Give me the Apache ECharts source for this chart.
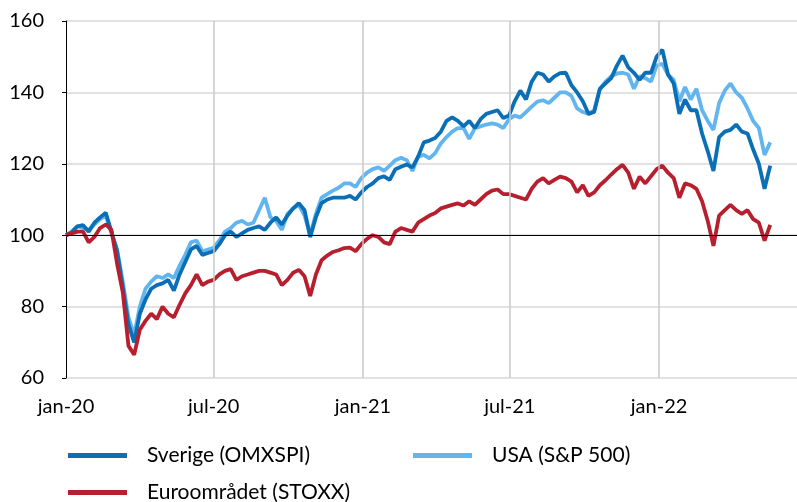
<!DOCTYPE html>
<html>
<head>
<meta charset="utf-8">
<script src="https://cdn.jsdelivr.net/npm/echarts@6/dist/echarts.min.js"></script>
<style>
  html, body { margin: 0; padding: 0; background: #fff; }
  #chart { width: 797px; height: 502px; }
</style>
</head>
<body>
<div id="chart"></div>
<script>
// weekly observations, first one on 2020-01-01
var startDate = '2020-01-01';
var stepDays = 7;

var sverige = [
    100, 100.8, 102.5, 102.8, 101, 103.5, 105, 106.3, 101, 95.5,
    85.5, 75, 70, 78, 82, 85, 86, 86.5, 87.5, 84.5,
    89, 92.5, 96, 97, 94.5, 95, 95.5, 97.5, 100, 101,
    99.5, 100.5, 101.5, 102, 102.5, 101.5, 103.5, 105, 103, 105.5,
    107.5, 109, 107, 99.5, 105, 109, 110, 110.5, 110.5, 110.5,
    111, 110, 112, 113.5, 114.5, 116, 116.5, 115.5, 118.5, 119.2,
    119.8, 119, 122, 126, 126.5, 127.2, 129, 132, 133, 132,
    130.5, 132, 130, 132.5, 134, 134.5, 135, 132.8, 133.5, 137.5,
    140.5, 138, 143, 145.5, 145, 143, 144.5, 145.4, 145.5, 142,
    140, 137.5, 134, 134.5, 141, 142.5, 144, 147.5, 150.3, 147,
    145.5, 143.5, 145.5, 145.5, 150, 152, 145, 142.5, 134, 138,
    135, 135, 128.5, 123.5, 118, 127.5, 129, 129.5, 131, 129,
    128.5, 124, 120, 113, 119.5
];

var usa = [
    100, 101, 102.5, 102, 101.5, 103, 104.5, 105.5, 100.5, 96,
    87, 77, 72, 80, 85, 87, 88.5, 88, 89, 88,
    91.5, 94.5, 98, 98.5, 95.5, 96, 96.5, 98.5, 101, 102,
    103.5, 104, 103, 103.5, 107, 110.5, 105, 104, 101.5, 106,
    107.5, 108.5, 105.5, 100, 106, 110.5, 111.5, 112.5, 113.3, 114.5,
    114.5, 113.5, 116, 117.5, 118.5, 119, 118, 119.5, 121, 121.7,
    121, 118, 122, 122.5, 121.5, 123, 125.7, 127.5, 129, 130,
    130, 127, 130, 130.5, 131, 131.3, 131, 130, 132.5, 133.5,
    133, 134.5, 136, 137.4, 137.8, 137, 138.5, 140, 140, 139,
    135.5, 134.5, 134, 135, 141, 143, 144.5, 145.3, 145.5, 145,
    141, 144.5, 144, 143, 147.5, 148, 145, 143.5, 137.5, 141.5,
    138, 141, 135, 132, 129.5, 137, 140.5, 142.5, 140, 138.5,
    135.5, 132, 130, 122.5, 126
];

var euro = [
    100, 100.5, 101, 101, 98, 99.5, 102, 103, 101.5, 92,
    84, 69, 66.5, 73.5, 76, 78, 76.5, 80, 78, 77,
    80.5, 83.7, 86, 89, 86, 87, 87.5, 89, 90, 90.5,
    87.5, 88.5, 89, 89.5, 90, 90, 89.5, 89, 86, 87.5,
    89.5, 90.3, 88.5, 83, 89, 93, 94.3, 95.3, 95.8, 96.4,
    96.5, 95.5, 97.5, 99, 100, 99.5, 98, 97.5, 101, 102,
    101.5, 101, 103.5, 104.5, 105.5, 106.2, 107.5, 108, 108.5, 108.9,
    108.3, 109.5, 108.5, 110, 111.5, 112.5, 112.8, 111.5, 111.5, 111,
    110.5, 110, 113, 115, 116, 114.5, 115.5, 116.4, 116, 115,
    112, 114, 111, 112, 114, 115.4, 117, 118.5, 119.7, 117.5,
    113, 116.4, 114.5, 116.5, 118.5, 119.5, 117.5, 116, 110.5, 114.5,
    114, 113, 109.5, 104, 97, 105.5, 107, 108.5, 107, 106,
    107, 104.5, 103.5, 98.5, 102.9
];

var seriesNames = ['Sverige (OMXSPI)', 'USA (S&P 500)', 'Euroområdet (STOXX)'];
var seriesColors = ['#0a6fb5', '#62b5ee', '#b71f2e'];

var tickDates = ['2020-01-01', '2020-07-01', '2021-01-01', '2021-07-01', '2022-01-01'];
var tickLabels = ['jan-20', 'jul-20', 'jan-21', 'jul-21', 'jan-22'];
var axisStart = '2020-01-01';
var axisEnd = '2022-06-20';

function toTime(s) {
    return Date.parse(s + 'T00:00:00Z');
}

function toPairs(values) {
    var t0 = toTime(startDate);
    var out = [];
    for (var i = 0; i < values.length; i++) {
        out.push([t0 + i * stepDays * 86400000, values[i]]);
    }
    return out;
}

var tickTimes = [];
var labelByTime = {};
for (var i = 0; i < tickDates.length; i++) {
    tickTimes.push(toTime(tickDates[i]));
    labelByTime[toTime(tickDates[i])] = tickLabels[i];
}

var vLines = [];
for (var i = 1; i < tickTimes.length; i++) {
    vLines.push({xAxis: tickTimes[i]});
}

var font = 'Lato, "Open Sans", sans-serif';

function lineSeries(name, color, values, extra) {
    var s = {
        name: name,
        type: 'line',
        data: toPairs(values),
        showSymbol: false,
        symbol: 'none',
        smooth: false,
        lineStyle: {color: color, width: 3.8},
        itemStyle: {color: color},
        emphasis: {disabled: true}
    };
    if (extra) {
        for (var k in extra) s[k] = extra[k];
    }
    return s;
}

function legendAt(name, left, top) {
    return {
        data: [name],
        left: left,
        top: top,
        padding: 0,
        icon: 'rect',
        itemWidth: 59,
        itemHeight: 5,
        selectedMode: false,
        textStyle: {fontFamily: font, fontSize: 21, color: '#000', padding: [0, 0, 0, 15]}
    };
}

var chart = echarts.init(document.getElementById('chart'));
chart.setOption({
    animation: false,
    backgroundColor: '#fff',
    grid: {left: 66, right: 0, top: 21, bottom: 124, containLabel: false},
    legend: [
        legendAt(seriesNames[0], 68, 445),
        legendAt(seriesNames[1], 413, 445),
        legendAt(seriesNames[2], 68, 482)
    ],
    xAxis: {
        type: 'value',
        min: toTime(axisStart),
        max: toTime(axisEnd),
        axisLine: {show: false},
        axisTick: {show: false},
        splitLine: {show: false},
        axisLabel: {
            customValues: tickTimes,
            margin: 19,
            fontFamily: font,
            fontSize: 20,
            color: '#000',
            formatter: function (v) {
                return labelByTime[v] || '';
            }
        }
    },
    yAxis: {
        type: 'value',
        min: 60,
        max: 160,
        interval: 20,
        axisLine: {show: true, lineStyle: {color: '#000', width: 1}},
        axisTick: {show: true, length: 4, lineStyle: {color: '#000'}},
        splitLine: {show: true, lineStyle: {color: '#d9d9d9', width: 1.5}},
        axisLabel: {margin: 22, fontFamily: font, fontSize: 20, color: '#000'}
    },
    series: [
        lineSeries(seriesNames[1], seriesColors[1], usa, {
            z: 2,
            markLine: {
                silent: true,
                symbol: 'none',
                label: {show: false},
                lineStyle: {color: '#c8c8c8', width: 1.5, type: 'solid'},
                data: vLines
            }
        }),
        lineSeries(seriesNames[0], seriesColors[0], sverige, {z: 3}),
        lineSeries(seriesNames[2], seriesColors[2], euro, {
            z: 4,
            markLine: {
                silent: true,
                symbol: 'none',
                label: {show: false},
                lineStyle: {color: '#000', width: 1.2, type: 'solid'},
                data: [{yAxis: 100}]
            }
        })
    ]
});
</script>
</body>
</html>
